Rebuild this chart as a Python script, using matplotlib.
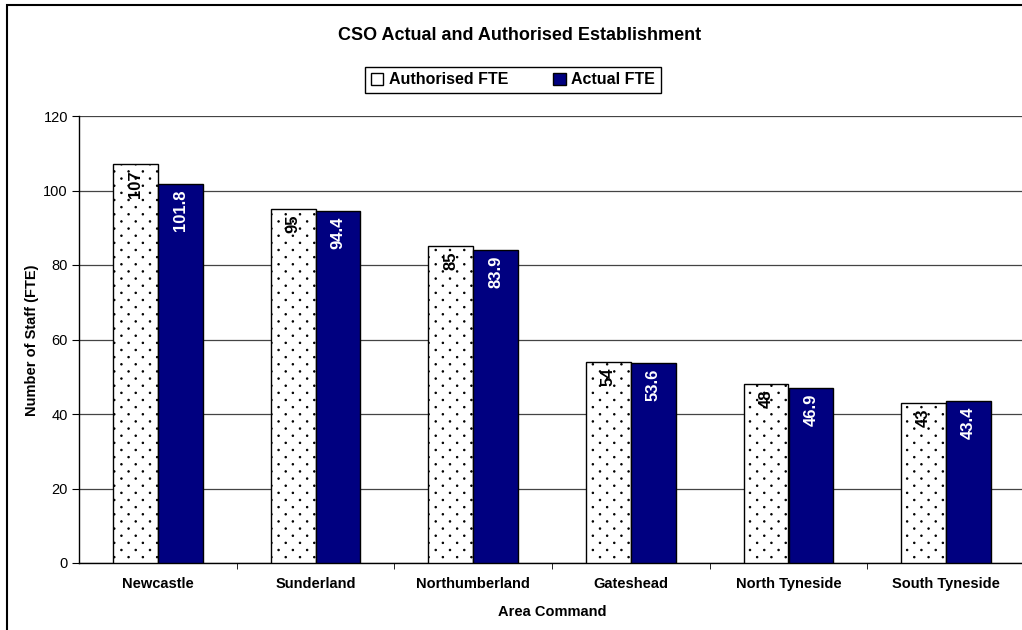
import matplotlib.pyplot as plt
import matplotlib.hatch as mhatch
from matplotlib.path import Path
from matplotlib.patches import Patch, Rectangle
import numpy as np

plt.rcParams['font.family'] = ['Liberation Sans', 'DejaVu Sans']
plt.rcParams['hatch.linewidth'] = 0.7

# chart data
areas = ['Newcastle', 'Sunderland', 'Northumberland', 'Gateshead', 'North Tyneside', 'South Tyneside']
authorised = [107, 95, 85, 54, 48, 43]
actual = [101.8, 94.4, 83.9, 53.6, 46.9, 43.4]
auth_labels = ['107', '95', '85', '54', '48', '43']
actual_labels = ['101.8', '94.4', '83.9', '53.6', '46.9', '43.4']


# excel-like sparse dot fill: dots every ~14px in a row, rows every ~7px, staggered
class SparseDots(mhatch.HatchPatternBase):
    filled = True

    def __init__(self, hatch, density):
        self.ncols = 7 if '.' in hatch else 0
        self.nrows = 14
        circle = Path.unit_circle()
        self.shape_vertices = circle.vertices
        self.shape_codes = circle.codes
        if self.ncols:
            n = sum(self.ncols + 1 if r % 2 == 0 else self.ncols for r in range(self.nrows + 1))
        else:
            n = 0
        self.num_vertices = n * len(self.shape_vertices)

    def set_vertices_and_codes(self, vertices, codes):
        nv = len(self.shape_vertices)
        dx = 1.0 / self.ncols
        dy = 1.0 / self.nrows
        cur = 0
        for row in range(self.nrows + 1):
            if row % 2 == 0:
                cols = np.linspace(0, 1, self.ncols + 1)
            else:
                cols = np.linspace(dx / 2, 1 - dx / 2, self.ncols)
            for c in cols:
                vertices[cur:cur + nv] = self.shape_vertices * 0.0075 + (c, row * dy)
                codes[cur:cur + nv] = self.shape_codes
                cur += nv


mhatch._hatch_types = [SparseDots if t is mhatch.SmallFilledCircles else t for t in mhatch._hatch_types]

W, H = 1022, 630
fig = plt.figure(figsize=(W / 100, H / 100), dpi=100)
ax = fig.add_axes([79 / W, 67 / H, 946 / W, 447 / H])

x = np.arange(len(areas))
bw = 0.285
b1 = ax.bar(x - bw / 2, authorised, bw, color='white', edgecolor='black', hatch='.', linewidth=1.0, zorder=3)
b2 = ax.bar(x + bw / 2, actual, bw, color='#000080', edgecolor='black', linewidth=1.0, zorder=3)

# value labels inside the top of each bar
for xi, v, t in zip(x, authorised, auth_labels):
    ax.annotate(t, (xi - bw / 2, v), xytext=(0, -4), textcoords='offset points', rotation=90,
                ha='center', va='top', fontsize=12, fontweight='bold', color='black', zorder=5)
for xi, v, t in zip(x, actual, actual_labels):
    ax.annotate(t, (xi + bw / 2, v), xytext=(0, -4), textcoords='offset points', rotation=90,
                ha='center', va='top', fontsize=12, fontweight='bold', color='white', zorder=5)

ax.set_xlim(-0.5, 5.5)
ax.set_ylim(0, 120)
ax.set_yticks(range(0, 121, 20))
ax.yaxis.grid(True, color='#444444', linewidth=0.9, zorder=0)
ax.tick_params(axis='y', direction='out', length=5, labelsize=10.5, pad=3)

ax.set_xticks(x)
ax.set_xticklabels(areas, fontsize=10.5, fontweight='bold')
ax.tick_params(axis='x', which='major', length=0, pad=10)
ax.set_xticks(x[:-1] + 0.5, minor=True)
ax.tick_params(axis='x', which='minor', direction='out', length=4)

for s in ['top', 'right']:
    ax.spines[s].set_visible(False)
ax.spines['left'].set_color('black')
ax.spines['bottom'].set_color('black')
ax.spines['left'].set_linewidth(1.0)
ax.spines['bottom'].set_linewidth(1.0)

ax.set_xlabel('Area Command', fontsize=10.5, fontweight='bold', labelpad=10)
fig.text(32 / W, 1 - 340 / H, 'Number of Staff (FTE)', rotation=90, ha='center', va='center',
         fontsize=10.5, fontweight='bold')

fig.text(520 / W, 1 - 35 / H, 'CSO Actual and Authorised Establishment', ha='center', va='center',
         fontsize=13, fontweight='bold')

handles = [Patch(facecolor='white', edgecolor='black', label='Authorised FTE'),
           Patch(facecolor='#000080', edgecolor='black', label='Actual FTE')]
leg = fig.legend(handles=handles, loc='center', bbox_to_anchor=(513 / W, 1 - 80 / H), ncol=2,
                 fancybox=False, edgecolor='black', framealpha=1, handlelength=0.8, handleheight=0.8,
                 handletextpad=0.35, columnspacing=2.8, borderpad=0.35, borderaxespad=0,
                 prop={'size': 11.5, 'weight': 'bold'})
leg.get_frame().set_linewidth(1.0)

# outer chart border
fig.patches.append(Rectangle((7 / W, -0.1), 1.2, 1 - 5 / H + 0.1, transform=fig.transFigure,
                             fill=False, edgecolor='black', linewidth=1.5))

fig.savefig('out.png', dpi=100)
